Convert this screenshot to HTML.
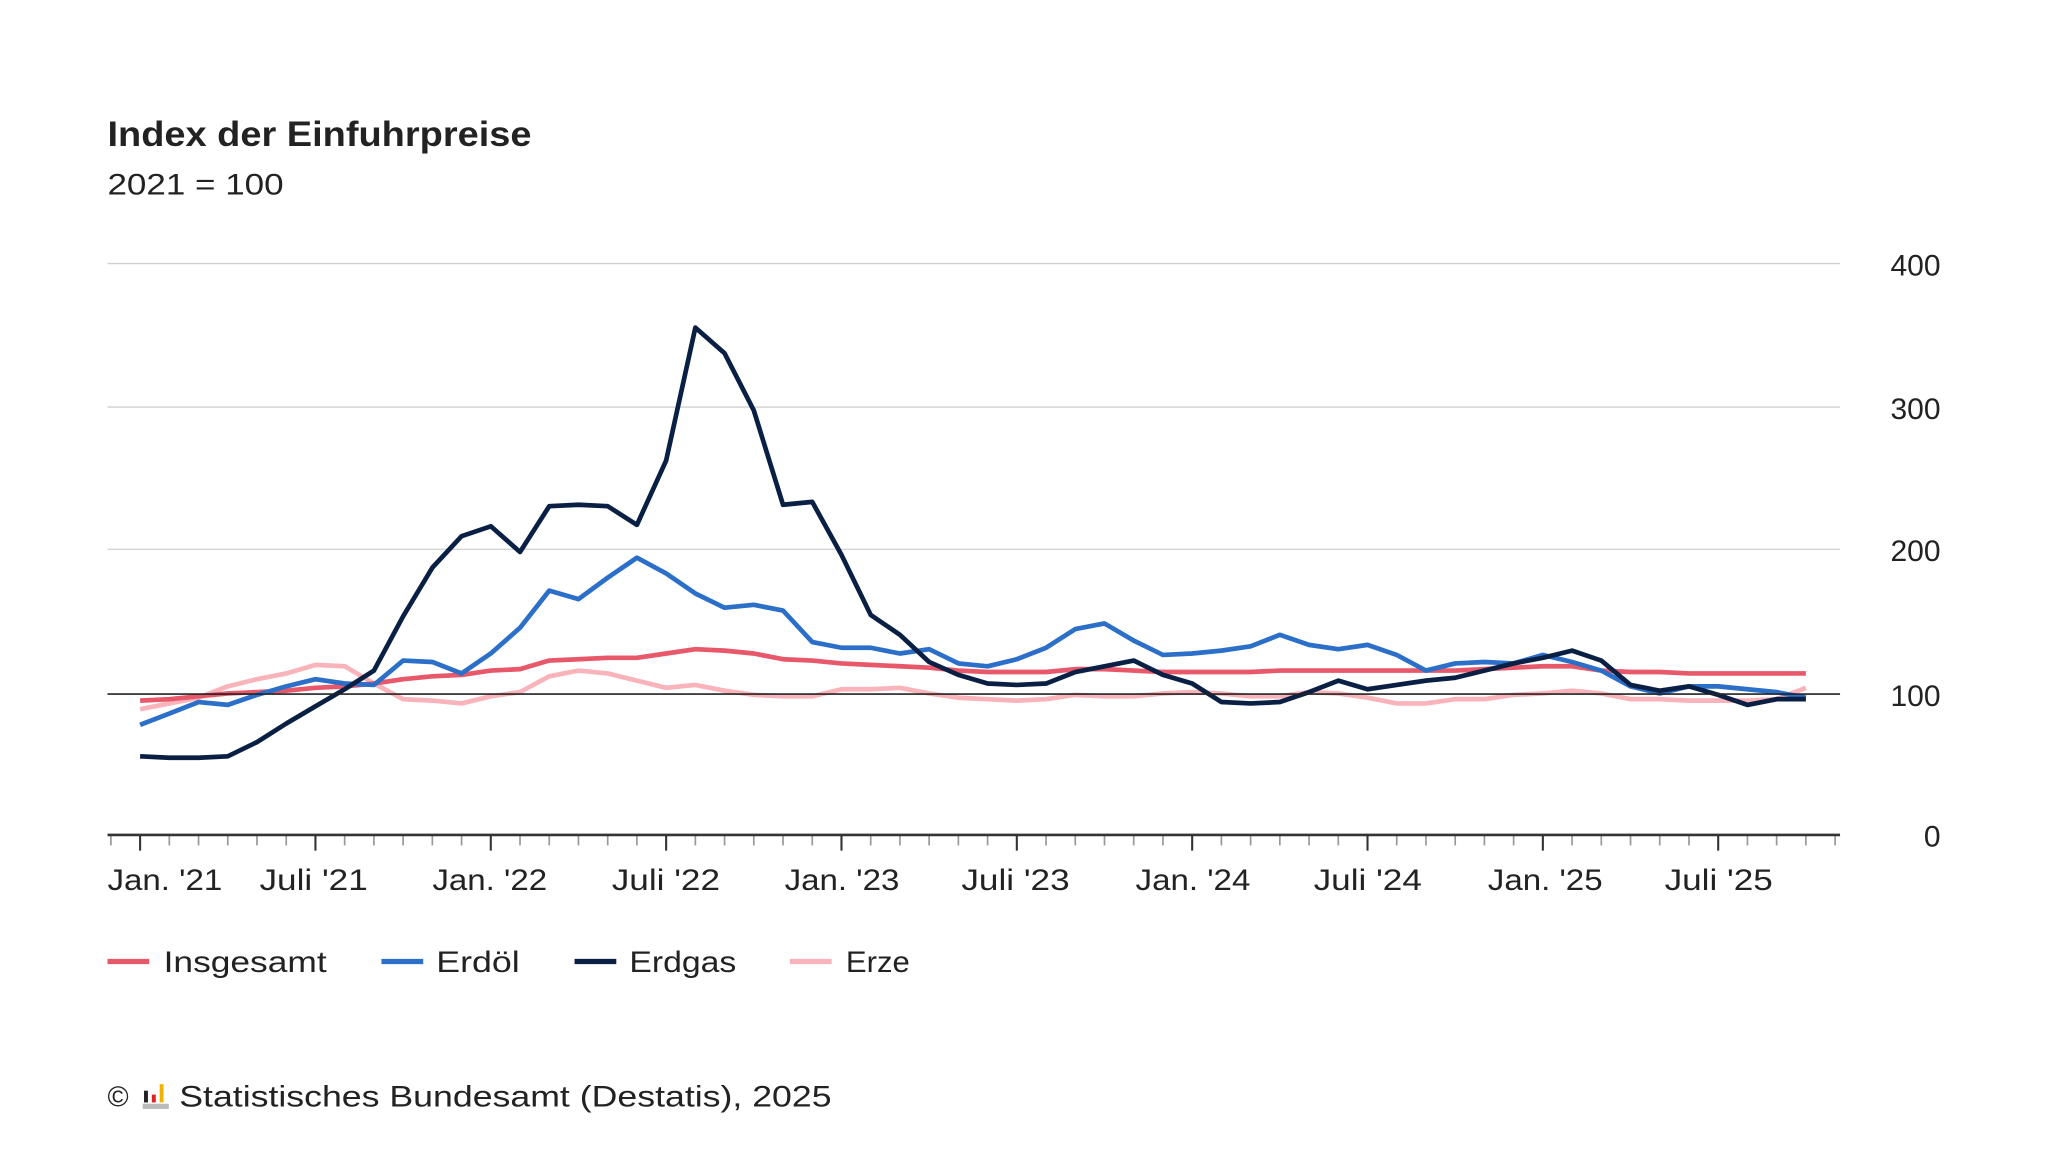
<!DOCTYPE html>
<html><head><meta charset="utf-8"><style>
html,body{margin:0;padding:0;background:#fff;}
svg{display:block;}
text{font-family:"Liberation Sans",sans-serif;fill:#222;}
</style></head><body>
<svg id="s" width="2048" height="1152" viewBox="0 0 1569 883" xmlns="http://www.w3.org/2000/svg">
<text x="82" y="112" font-size="27" font-weight="bold" textLength="325" lengthAdjust="spacingAndGlyphs">Index der Einfuhrpreise</text>
<text x="82" y="149" font-size="23" textLength="135" lengthAdjust="spacingAndGlyphs">2021 = 100</text>
<g stroke="#d0d0d0" stroke-width="1">
<line x1="82" x2="1410" y1="202" y2="202"/>
<line x1="82" x2="1410" y1="312" y2="312"/>
<line x1="82" x2="1410" y1="421" y2="421"/>
</g>
<g font-size="23" text-anchor="end">
<text x="1487" y="211">400</text>
<text x="1487" y="321">300</text>
<text x="1487" y="430">200</text>
<text x="1487" y="541">100</text>
<text x="1487" y="649">0</text>
</g>
<g id="ticks"></g>
<g id="lines" fill="none" stroke-width="3.6" stroke-linejoin="round"></g>
<line x1="82" x2="1410" y1="532" y2="532" stroke="#222" stroke-width="1.3"/>
<line x1="82" x2="1410" y1="640" y2="640" stroke="#333" stroke-width="2"/>
<g font-size="23">
<text x="82" y="682" textLength="88" lengthAdjust="spacingAndGlyphs">Jan. '21</text>
<text x="240" y="682" text-anchor="middle" textLength="83" lengthAdjust="spacingAndGlyphs">Juli '21</text>
<text x="375" y="682" text-anchor="middle" textLength="88" lengthAdjust="spacingAndGlyphs">Jan. '22</text>
<text x="510" y="682" text-anchor="middle" textLength="83" lengthAdjust="spacingAndGlyphs">Juli '22</text>
<text x="645" y="682" text-anchor="middle" textLength="88" lengthAdjust="spacingAndGlyphs">Jan. '23</text>
<text x="778" y="682" text-anchor="middle" textLength="83" lengthAdjust="spacingAndGlyphs">Juli '23</text>
<text x="914" y="682" text-anchor="middle" textLength="88" lengthAdjust="spacingAndGlyphs">Jan. '24</text>
<text x="1048" y="682" text-anchor="middle" textLength="83" lengthAdjust="spacingAndGlyphs">Juli '24</text>
<text x="1184" y="682" text-anchor="middle" textLength="88" lengthAdjust="spacingAndGlyphs">Jan. '25</text>
<text x="1317" y="682" text-anchor="middle" textLength="83" lengthAdjust="spacingAndGlyphs">Juli '25</text>
</g>
<g stroke-width="4">
<line x1="82" x2="114" y1="737" y2="737" stroke="#e8586b"/>
<line x1="292" x2="324" y1="737" y2="737" stroke="#2b6fc9"/>
<line x1="440" x2="472" y1="737" y2="737" stroke="#0a1f44"/>
<line x1="605" x2="637" y1="737" y2="737" stroke="#f9b3bb"/>
</g>
<g font-size="23">
<text x="125" y="745" textLength="125" lengthAdjust="spacingAndGlyphs">Insgesamt</text>
<text x="334" y="745" textLength="64" lengthAdjust="spacingAndGlyphs">Erdöl</text>
<text x="482" y="745" textLength="82" lengthAdjust="spacingAndGlyphs">Erdgas</text>
<text x="648" y="745" textLength="49" lengthAdjust="spacingAndGlyphs">Erze</text>
</g>
<text x="82" y="848" font-size="22">©</text>
<rect x="109" y="846" width="20" height="4" fill="#bbb"/>
<rect x="110" y="836" width="3" height="9" fill="#222"/>
<rect x="116" y="839" width="3" height="6" fill="#d22"/>
<rect x="122" y="831" width="3" height="14" fill="#f0b400"/>
<text x="137" y="848" font-size="23" textLength="500" lengthAdjust="spacingAndGlyphs">Statistisches Bundesamt (Destatis), 2025</text>
</svg>
<script>
var NS="http://www.w3.org/2000/svg";
var tg=document.getElementById('ticks');
function X(i){return 107+i*22.4;}
for(var i=-1;i<=59;i++){var x=X(i);if(x<82||x>1411)continue;var major=((i%6)+6)%6==0;
var l=document.createElementNS(NS,'line');l.setAttribute('x1',x);l.setAttribute('x2',x);l.setAttribute('y1',640);l.setAttribute('y2',major?652:648);
l.setAttribute('stroke',major?'#333':'#999');l.setAttribute('stroke-width',major?1.6:1.3);tg.appendChild(l);}
var data=[
["#f9b3bb",[88,92,96,104,109,113,119,118,106,95,94,92,97,100,111,115,113,108,103,105,101,98,97,97,102,102,103,99,96,95,94,95,98,97,97,99,100,99,97,97,100,99,96,92,92,95,95,98,99,101,99,95,95,94,94,94,95,103]],
["#e8586b",[94,95,97,99,100,101,103,104,106,109,111,112,115,116,122,123,124,124,127,130,129,127,123,122,120,119,118,117,115,114,114,114,116,116,115,114,114,114,114,115,115,115,115,115,115,115,116,117,118,118,115,114,114,113,113,113,113,113]],
["#2b6fc9",[77,85,93,91,98,104,109,106,105,122,121,113,127,145,171,165,180,194,183,169,159,161,157,135,131,131,127,130,120,118,123,131,144,148,136,126,127,129,132,140,133,130,133,126,115,120,121,120,126,121,115,104,99,104,104,102,100,96]],
["#0a1f44",[55,54,54,55,65,78,90,102,115,153,187,209,216,198,230,231,230,217,262,355,337,297,231,233,196,154,140,121,112,106,105,106,114,118,122,112,106,93,92,93,100,108,102,105,108,110,115,120,124,129,122,105,101,104,98,91,95,95]]];
var lg=document.getElementById('lines');
data.forEach(function(d){var p=d[1].map(function(v,i){return X(i).toFixed(1)+','+(640-v*1.0955).toFixed(1);}).join(' ');
var pl=document.createElementNS(NS,'polyline');pl.setAttribute('points',p);pl.setAttribute('stroke',d[0]);lg.appendChild(pl);});
</script>
</body></html>
